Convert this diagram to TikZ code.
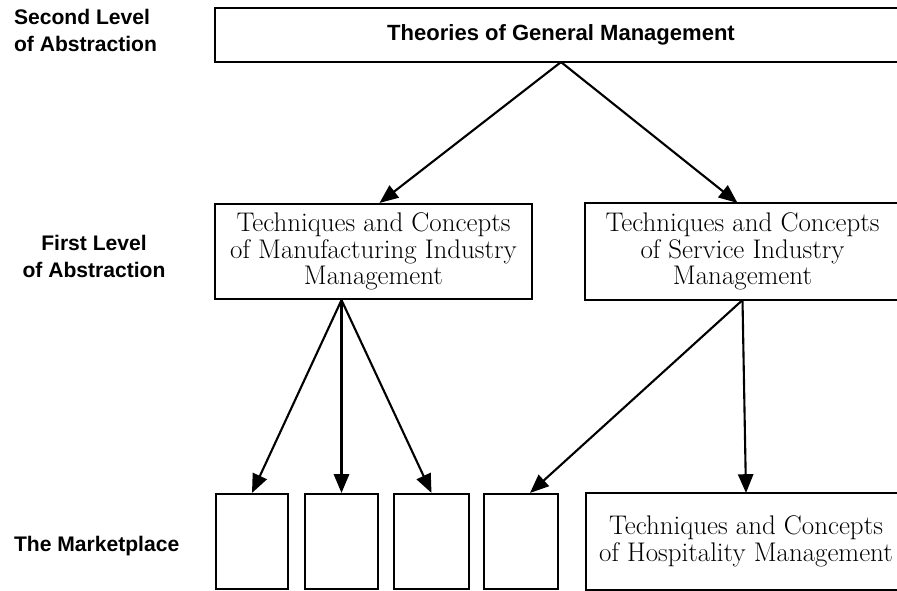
\documentclass[tikz,border=0pt]{standalone}
\usepackage{fontspec}
\setsansfont{Liberation Sans}
\usetikzlibrary{arrows.meta}
\begin{document}
\begin{tikzpicture}[x=0.03cm,y=-0.03cm,line width=1.8pt,
    box/.style={inner sep=0pt,minimum height=2.85cm,align=center,
      font=\fontsize{23}{22.8}\selectfont},
    level/.style={inner sep=0pt,font=\sffamily\bfseries\fontsize{18}{23}\selectfont},
    flow/.style={-{Triangle[length=16pt,width=13pt]}}]
  \useasboundingbox (0,0) rectangle (897,591);
  \clip (-5,-5) rectangle (897,596);
  % level labels
  \node[level,align=left,anchor=west] (second) at (13,30) {Second Level\\of Abstraction};
  \node[level,align=center] (first) at (94,256) {First Level\\of Abstraction};
  \node[level,anchor=west] (market) at (13,546) {The Marketplace};
  % boxes
  \node[inner sep=0pt,minimum width=20.7cm,minimum height=1.56cm,
    font=\sffamily\bfseries\fontsize{18.8}{23}\selectfont] (theories) at (561,35)
    {Theories of General Management};
  \node[box,draw,minimum width=9.51cm] (manuf) at (373.5,251.5)
    {Techniques and Concepts\\of Manufacturing Industry\\Management};
  \node[box,minimum width=9.39cm] (serv) at (742.5,251.5)
    {Techniques and Concepts\\of Service Industry\\Management};
  \node[box,draw,minimum width=2.16cm] (mkta) at (252,541.5) {};
  \node[box,draw,minimum width=2.19cm] (mktb) at (341.5,541.5) {};
  \node[box,draw,minimum width=2.25cm] (mktc) at (431.5,541.5) {};
  \node[box,draw,minimum width=2.22cm] (mktd) at (521,541.5) {};
  \node[box,minimum width=9.54cm] (hosp) at (746,541.5)
    {Techniques and Concepts\\of Hospitality Management};
  % boxes running off the right edge
  \draw ([xshift=2cm]theories.north east) -- (theories.north west)
    -- (theories.south west) -- ([xshift=2cm]theories.south east);
  \draw ([xshift=2cm]serv.north east) -- (serv.north west)
    -- (serv.south west) -- ([xshift=2cm]serv.south east);
  \draw ([xshift=2cm]hosp.north east) -- (hosp.north west)
    -- (hosp.south west) -- ([xshift=2cm]hosp.south east);
  % arrows
  \draw[flow] (theories.south) -- ([xshift=0.18cm]manuf.north);
  \draw[flow] (theories.south) -- ([xshift=-0.15cm]serv.north);
  \draw[flow] (mktb.north |- manuf.south) -- (mkta.north);
  \draw[flow] (mktb.north |- manuf.south) -- (mktb.north);
  \draw[flow] (mktb.north |- manuf.south) -- (mktc.north);
  \draw[flow] (serv.south) -- ([xshift=0.27cm]mktd.north);
  \draw[flow] (serv.south) -- (hosp.north);
\end{tikzpicture}
\end{document}
